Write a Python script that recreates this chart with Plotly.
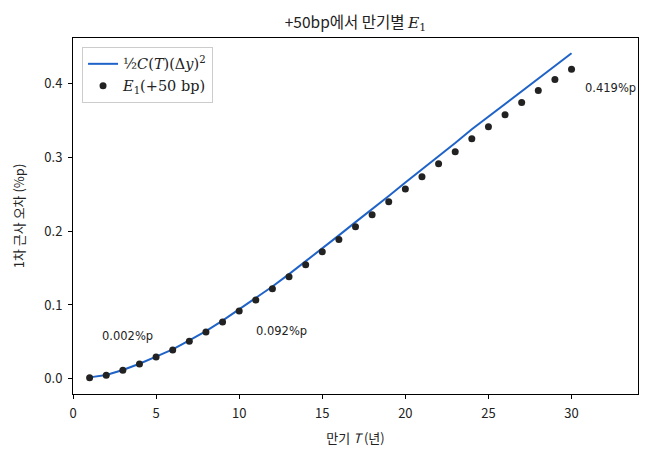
import plotly.graph_objects as go

# maturities (years)
maturity = list(range(1, 31))

# first-order approximation error at +50bp (%p)
e1_points = [0.0015, 0.0050, 0.0118, 0.0200, 0.0295, 0.0392, 0.0510, 0.0633, 0.0769, 0.0918,
             0.1067, 0.1218, 0.1380, 0.1545, 0.1720, 0.1885, 0.2057, 0.2222, 0.2396, 0.2570,
             0.2735, 0.2910, 0.3074, 0.3250, 0.3410, 0.3575, 0.3740, 0.3900, 0.4050, 0.4190]

# 1/2 C(T) (dy)^2 convexity term (%p)
convexity_term = [0.0020, 0.0051, 0.0120, 0.0204, 0.0300, 0.0400, 0.0521, 0.0647, 0.0787, 0.0942,
                  0.1094, 0.1250, 0.1417, 0.1588, 0.1770, 0.1941, 0.2121, 0.2293, 0.2475, 0.2658,
                  0.2832, 0.3016, 0.3190, 0.3377, 0.3548, 0.3724, 0.3900, 0.4072, 0.4237, 0.4405]

# labelled values and where their text sits
label_text = ['0.002%p', '0.092%p', '0.419%p']
label_x = [1.6, 10.9, 30.7]
label_y = [0.058, 0.065, 0.394]

sans = "Noto Sans CJK KR"

fig = go.Figure()
fig.add_trace(go.Scatter(
    x=maturity, y=convexity_term, mode='lines',
    line=dict(color='#1f63c8', width=2),
    name="<span style='font-family:DejaVu Serif'>½<i>C</i>(<i>T</i>)(Δ<i>y</i>)<sup>2</sup></span>",
))
fig.add_trace(go.Scatter(
    x=maturity, y=e1_points, mode='markers',
    marker=dict(color='#222222', size=7),
    name="<span style='font-family:DejaVu Serif'><i>E</i><sub>1</sub>(+50 bp)</span>",
))

for lx, ly, txt in zip(label_x, label_y, label_text):
    fig.add_annotation(
        x=lx, y=ly, xref='x', yref='y', text=txt,
        showarrow=False, xanchor='left', yanchor='middle',
        font=dict(family='DejaVu Sans', size=11.5, color='#222222'),
    )

# the page body adds an 8px offset, so margins are shifted by that
fig.update_layout(
    width=647, height=462,
    margin=dict(l=65, r=17, t=30, b=76),
    paper_bgcolor='white', plot_bgcolor='white',
    font=dict(family=sans, size=13, color='#222222'),
    title=dict(
        text="+50bp에서 만기별 <span style='font-family:DejaVu Serif'><i>E</i><sub>1</sub></span>",
        x=0.5, xref='paper', xanchor='center', y=0.968, yanchor='middle',
        font=dict(size=15.5),
    ),
    legend=dict(
        x=0.016, y=0.975, xanchor='left', yanchor='top',
        bordercolor='#cccccc', borderwidth=1, bgcolor='rgba(255,255,255,0.8)',
        font=dict(size=14.5), tracegroupgap=8,
    ),
    showlegend=True,
)
fig.update_xaxes(
    range=[0, 34], tickvals=[0, 5, 10, 15, 20, 25, 30],
    showgrid=False, zeroline=False, automargin=False,
    showline=True, linecolor='black', linewidth=1, mirror=True,
    ticks='outside', ticklen=4, tickcolor='black', ticklabelstandoff=3,
    title=dict(text="만기 <i>T</i> (년)", font=dict(size=13), standoff=13),
)
fig.update_yaxes(
    range=[-0.0205, 0.4612], tickvals=[0.0, 0.1, 0.2, 0.3, 0.4], tickformat='.1f',
    showgrid=False, zeroline=False, automargin=False,
    showline=True, linecolor='black', linewidth=1, mirror=True,
    ticks='outside', ticklen=4, tickcolor='black', ticklabelstandoff=3,
    title=dict(text="1차 근사 오차 (%p)", font=dict(size=13), standoff=16),
)

fig.write_html("out.html")
